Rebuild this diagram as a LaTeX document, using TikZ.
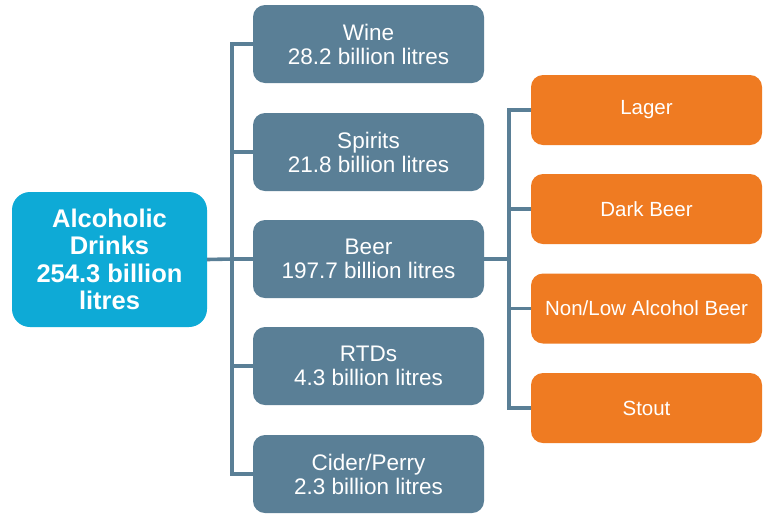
\documentclass[tikz,border=0pt]{standalone}
\usepackage{fontspec}
\setmainfont{Liberation Sans}
\definecolor{cyanbox}{RGB}{14,170,214}
\definecolor{slate}{RGB}{90,127,150}
\definecolor{orangebox}{RGB}{239,123,34}
\tikzset{
  rootbox/.style={fill=cyanbox, rounded corners=18pt, minimum width=195pt, minimum height=135pt, inner sep=0pt, align=center, text=white, font=\fontsize{25.5}{27.5}\selectfont\bfseries},
  catbox/.style={fill=slate, rounded corners=12pt, minimum width=231pt, minimum height=78pt, inner sep=0pt, align=center, text=white, font=\fontsize{22.5}{24}\selectfont},
  subbox/.style={fill=orangebox, rounded corners=12pt, minimum width=231pt, minimum height=70pt, inner sep=0pt, align=center, text=white, font=\fontsize{20.5}{22}\selectfont},
  link/.style={draw=slate, line width=3.6pt}
}
\begin{document}
\begin{tikzpicture}[x=1pt,y=-1pt]
\useasboundingbox (0,0) rectangle (770,528);
\fill[white] (0,0) rectangle (770,528);
\coordinate (j1) at (232,259);
\coordinate (j2) at (509,259);
\node[rootbox] (root) at (109.5,259.5) {Alcoholic\\Drinks\\254.3 billion\\litres};
\node[catbox] (wine) at (368.5,44) {Wine\\28.2 billion litres};
\node[catbox] (spirits) at (368.5,152) {Spirits\\21.8 billion litres};
\node[catbox] (beer) at (368.5,259) {Beer\\197.7 billion litres};
\node[catbox] (rtds) at (368.5,366) {RTDs\\4.3 billion litres};
\node[catbox] (cider) at (368.5,474) {Cider/Perry\\2.3 billion litres};
\node[subbox] (lager) at (646.5,110) {Lager};
\node[subbox] (dark) at (646.5,209) {Dark Beer};
\node[subbox] (nonlow) at (646.5,308.5) {Non/Low Alcohol Beer};
\node[subbox] (stout) at (646.5,408) {Stout};
\draw[link] (root.east) -- (j1);
\draw[link] (wine.west) -| (j1);
\draw[link] (spirits.west) -| (j1);
\draw[link] (beer.west) -- (j1);
\draw[link] (rtds.west) -| (j1);
\draw[link] (cider.west) -| (j1);
\draw[link] (beer.east) -- (j2);
\draw[link] (lager.west) -| (j2);
\draw[link] (dark.west) -| (j2);
\draw[link] (nonlow.west) -| (j2);
\draw[link] (stout.west) -| (j2);
\end{tikzpicture}
\end{document}
